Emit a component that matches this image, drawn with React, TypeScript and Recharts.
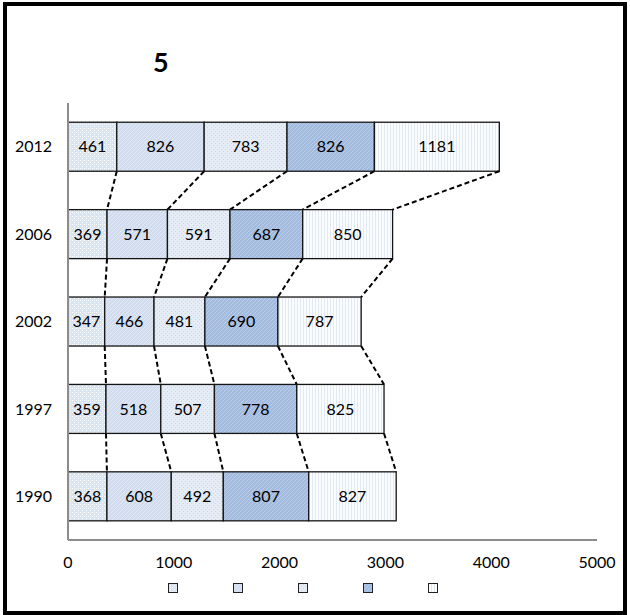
import React from "react";
import { BarChart, Bar, XAxis, YAxis, Legend, LabelList } from "recharts";

const years = ["2012", "2006", "2002", "1997", "1990"];
const seriesA = [461, 369, 347, 359, 368];
const seriesB = [826, 571, 466, 518, 608];
const seriesC = [783, 591, 481, 507, 492];
const seriesD = [826, 687, 690, 778, 807];
const seriesE = [1181, 850, 787, 825, 827];
const xTicks = [0, 1000, 2000, 3000, 4000, 5000];

const seriesKeys = ["a", "b", "c", "d", "e"];
const patternIds = ["patA", "patB", "patC", "patD", "patE"];

const data = years.map((year, i) => ({
  year,
  a: seriesA[i],
  b: seriesB[i],
  c: seriesC[i],
  d: seriesD[i],
  e: seriesE[i],
}));

const FONT = "Lato, 'Open Sans', sans-serif";

// bar edges seen so far, per series and row, so each segment can link back to the row above
const edges: Record<string, Record<number, { right: number; bottom: number }>> = {};

function segmentShape(key: string, pat: string) {
  return (p: any) => {
    const { x, y, width, height } = p;
    const idx = typeof p.index === "number" ? p.index : years.indexOf(p.payload?.year);
    const right = x + width;
    if (!edges[key]) edges[key] = {};
    edges[key][idx] = { right, bottom: y + height };
    const prev = idx > 0 ? edges[key][idx - 1] : undefined;
    return (
      <g>
        <rect x={x} y={y} width={width} height={height} fill={`url(#${pat})`} stroke="#151515" strokeWidth={1.3} />
        {prev && (
          <line
            x1={prev.right}
            y1={prev.bottom}
            x2={right}
            y2={y}
            stroke="#000"
            strokeWidth={2}
            strokeDasharray="5 3"
          />
        )}
      </g>
    );
  };
}

function LegendSquares() {
  return (
    <div style={{ display: "flex" }}>
      {patternIds.map((p) => (
        <div key={p} style={{ width: 65 }}>
          <svg width={10} height={10} style={{ display: "block" }}>
            <rect x={0.5} y={0.5} width={9} height={9} fill={`url(#${p})`} stroke="#222" strokeWidth={1} />
          </svg>
        </div>
      ))}
    </div>
  );
}

export default function App() {
  return (
    <div style={{ position: "absolute", left: 0, top: 0, width: 630, height: 615, background: "#fff", fontFamily: FONT }}>
      <div
        style={{
          position: "absolute",
          left: 3,
          top: 2,
          width: 624,
          height: 613,
          boxSizing: "border-box",
          border: "4px solid #000",
        }}
      />
      <div
        style={{
          position: "absolute",
          left: 153,
          top: 48,
          fontSize: 27,
          lineHeight: "27px",
          fontWeight: 700,
          color: "#000",
        }}
      >
        5
      </div>
      <BarChart
        width={630}
        height={615}
        data={data}
        layout="vertical"
        margin={{ top: 103, right: 33, bottom: 45, left: 8 }}
        barCategoryGap="22%"
      >
        <defs>
          <pattern id="patA" width={4} height={4} patternUnits="userSpaceOnUse">
            <rect width={4} height={4} fill="#d9e4f1" />
            <rect x={0} y={0} width={1} height={1} fill="#ffffff" />
            <rect x={2} y={2} width={1} height={1} fill="#ffffff" />
            <rect x={2} y={0} width={1} height={1} fill="#eef3f9" />
          </pattern>
          <pattern id="patB" width={4} height={4} patternUnits="userSpaceOnUse">
            <rect width={4} height={4} fill="#d1ddee" />
            <path d="M-1,1 l2,-2 M0,4 l4,-4 M3,5 l2,-2" stroke="#e3eaf5" strokeWidth={1} />
          </pattern>
          <pattern id="patC" width={4} height={4} patternUnits="userSpaceOnUse">
            <rect width={4} height={4} fill="#e5ecf6" />
            <rect x={1} y={1} width={1} height={1} fill="#c9d7ea" />
            <rect x={3} y={3} width={1} height={1} fill="#c9d7ea" />
          </pattern>
          <pattern id="patD" width={4} height={4} patternUnits="userSpaceOnUse">
            <rect width={4} height={4} fill="#a3bbdf" />
            <path d="M-1,1 l2,-2 M0,4 l4,-4 M3,5 l2,-2" stroke="#bccde8" strokeWidth={1} />
          </pattern>
          <pattern id="patE" width={3} height={3} patternUnits="userSpaceOnUse">
            <rect width={3} height={3} fill="#fbfcfe" />
            <rect x={0} y={0} width={1} height={3} fill="#e1e9f4" />
          </pattern>
        </defs>
        <XAxis
          type="number"
          domain={[0, 5000]}
          ticks={xTicks}
          interval={0}
          height={30}
          tickLine={false}
          tickMargin={11}
          axisLine={{ stroke: "#8c8c8c", strokeWidth: 2 }}
          tick={{ fill: "#000", fontSize: 16, fontFamily: FONT }}
        />
        <YAxis
          type="category"
          dataKey="year"
          width={60}
          tickLine={false}
          tickMargin={10}
          axisLine={{ stroke: "#8c8c8c", strokeWidth: 2 }}
          tick={{ fill: "#000", fontSize: 16, fontFamily: FONT }}
        />
        <Legend
          layout="horizontal"
          verticalAlign="middle"
          align="center"
          wrapperStyle={{ left: 168, top: 583, width: 330 }}
          content={() => <LegendSquares />}
        />
        {seriesKeys.map((k, i) => (
          <Bar
            key={k}
            dataKey={k}
            stackId="total"
            isAnimationActive={false}
            fill="#dce6f2"
            shape={segmentShape(k, patternIds[i])}
          >
            <LabelList dataKey={k} position="center" fill="#000" fontSize={16} fontFamily={FONT} />
          </Bar>
        ))}
      </BarChart>
    </div>
  );
}
